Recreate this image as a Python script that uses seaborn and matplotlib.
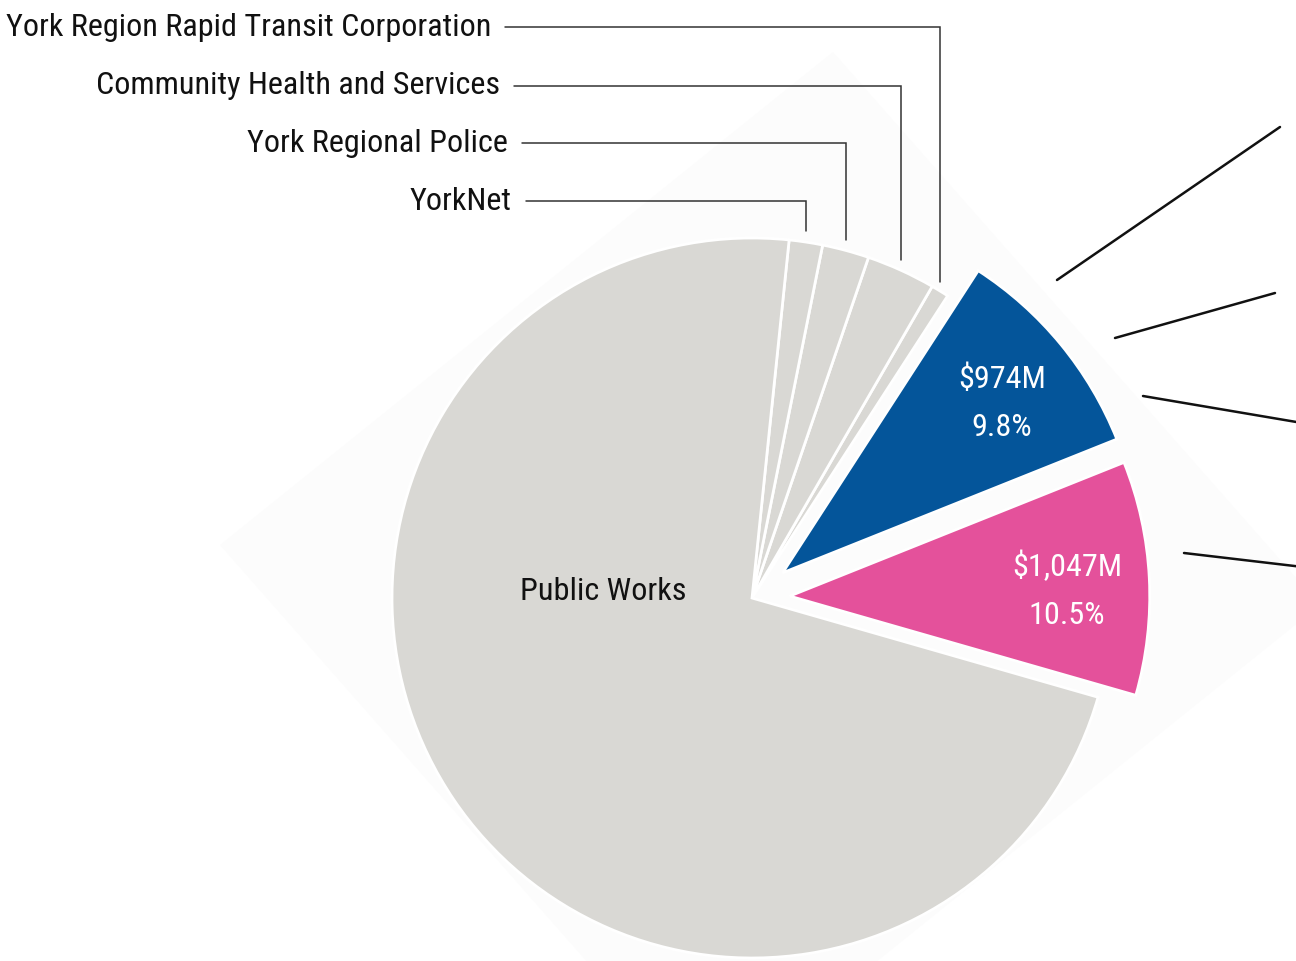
import numpy as np
import matplotlib
matplotlib.use("Agg")
import matplotlib.pyplot as plt
import seaborn as sns
from matplotlib import font_manager
from matplotlib.patches import Polygon

# slices, counter-clockwise from the lower edge of the pink slice
categories = ["", "", "York Region Rapid Transit Corporation", "Community Health and Services",
              "York Regional Police", "YorkNet", "Public Works"]
shares = [10.5, 9.8, 0.8, 3.1, 2.1, 1.5, 72.2]
amounts = ["$1,047M", "$974M", None, None, None, None, None]

colors = ["#e4519b", "#04559a", "#d9d8d4", "#d9d8d4", "#d9d8d4", "#d9d8d4", "#d9d8d4"]
explode = [0.105, 0.11, 0, 0, 0, 0, 0]

# left call-out labels (pixel rows / start of leader line), for slices 2..5
callout_y = [27, 86, 143, 201]
callout_x = [505, 514, 522, 526]

# leader lines on the right whose labels are cropped off the image
right_leaders = [((1057, 280), (1280, 127)), ((1115, 338), (1275, 293)),
                 ((1143, 396), (1320, 426)), ((1184, 553), (1320, 569))]

W, H = 1296, 961
CX, CY, R = 752, 598, 360

sns.set_theme(style="white")

# the original uses a condensed face; take one if the system has it
fonts = font_manager.fontManager.ttflist
names = {f.name for f in fonts}
FONT, STRETCH = "DejaVu Sans", "normal"
for cand in ["Liberation Sans Narrow", "Roboto Condensed", "Noto Sans Condensed",
             "Open Sans Condensed", "DejaVu Sans Condensed"]:
    if cand in names:
        FONT = cand
        break
else:
    for fam in ["Noto Sans", "Open Sans", "DejaVu Sans", "Roboto"]:
        if any(f.name == fam and "condensed" in str(f.stretch) for f in fonts):
            FONT, STRETCH = fam, "condensed"
            break
    else:
        FONT = "Roboto" if "Roboto" in names else "DejaVu Sans"
plt.rcParams["font.family"] = [FONT, "DejaVu Sans"]

fig = plt.figure(figsize=(W / 100, H / 100), dpi=100)
ax = fig.add_axes([0, 0, 1, 1])

# faint backdrop diamond
backdrop = [(220, 545), (833, 52), (1320, 605), (707, 1098)]
ax.add_patch(Polygon([(x, H - y) for x, y in backdrop], closed=True,
                     facecolor="#fcfcfc", edgecolor="none", zorder=0))

wedges, _ = ax.pie(shares, colors=colors, explode=[e * R for e in explode], startangle=-16,
                   counterclock=True, center=(CX, H - CY), radius=R,
                   wedgeprops=dict(edgecolor="white", linewidth=2))

texts = []
# value labels inside the coloured slices
for w, amt, pct in zip(wedges, amounts, shares):
    if amt is None:
        continue
    mid = np.deg2rad((w.theta1 + w.theta2) / 2 - 1.7)
    x = w.center[0] + 0.77 * w.r * np.cos(mid)
    y = w.center[1] + 0.77 * w.r * np.sin(mid)
    texts.append(ax.text(x, y, f"{amt}\n{pct}%", color="white", fontsize=24,
                         fontstretch=STRETCH, ha="center", va="center",
                         multialignment="center", linespacing=1.85))

texts.append(ax.text(603, H - 591, categories[6], fontsize=24, fontstretch=STRETCH,
                     color="#111111", ha="center", va="center"))

# call-outs for the thin grey slices
for idx, ly, lx in zip([2, 3, 4, 5], callout_y, callout_x):
    w = wedges[idx]
    mid = np.deg2rad((w.theta1 + w.theta2) / 2)
    xe = w.center[0] + w.r * np.cos(mid)
    ye = w.center[1] + 1.03 * w.r * np.sin(mid)
    ax.plot([lx, xe, xe], [H - ly, H - ly, ye], color="#333333", lw=1.1,
            solid_joinstyle="miter")
    texts.append(ax.text(lx - 14, H - ly, categories[idx], fontsize=24, fontstretch=STRETCH,
                         color="#111111", ha="right", va="center"))

for (x0, y0), (x1, y1) in right_leaders:
    ax.plot([x0, x1], [H - y0, H - y1], color="#111111", lw=1.8)

ax.set_xlim(0, W)
ax.set_ylim(0, H)
ax.set_aspect("equal")
ax.axis("off")

# scale the type so "Community Health and Services" is about as wide as in the original
renderer = fig.canvas.get_renderer()
width = texts[-3].get_window_extent(renderer).width
scale = min(1.0, 405 / width)
for t in texts:
    t.set_fontsize(24 * scale)

fig.savefig("out.png", dpi=100, facecolor="white")
